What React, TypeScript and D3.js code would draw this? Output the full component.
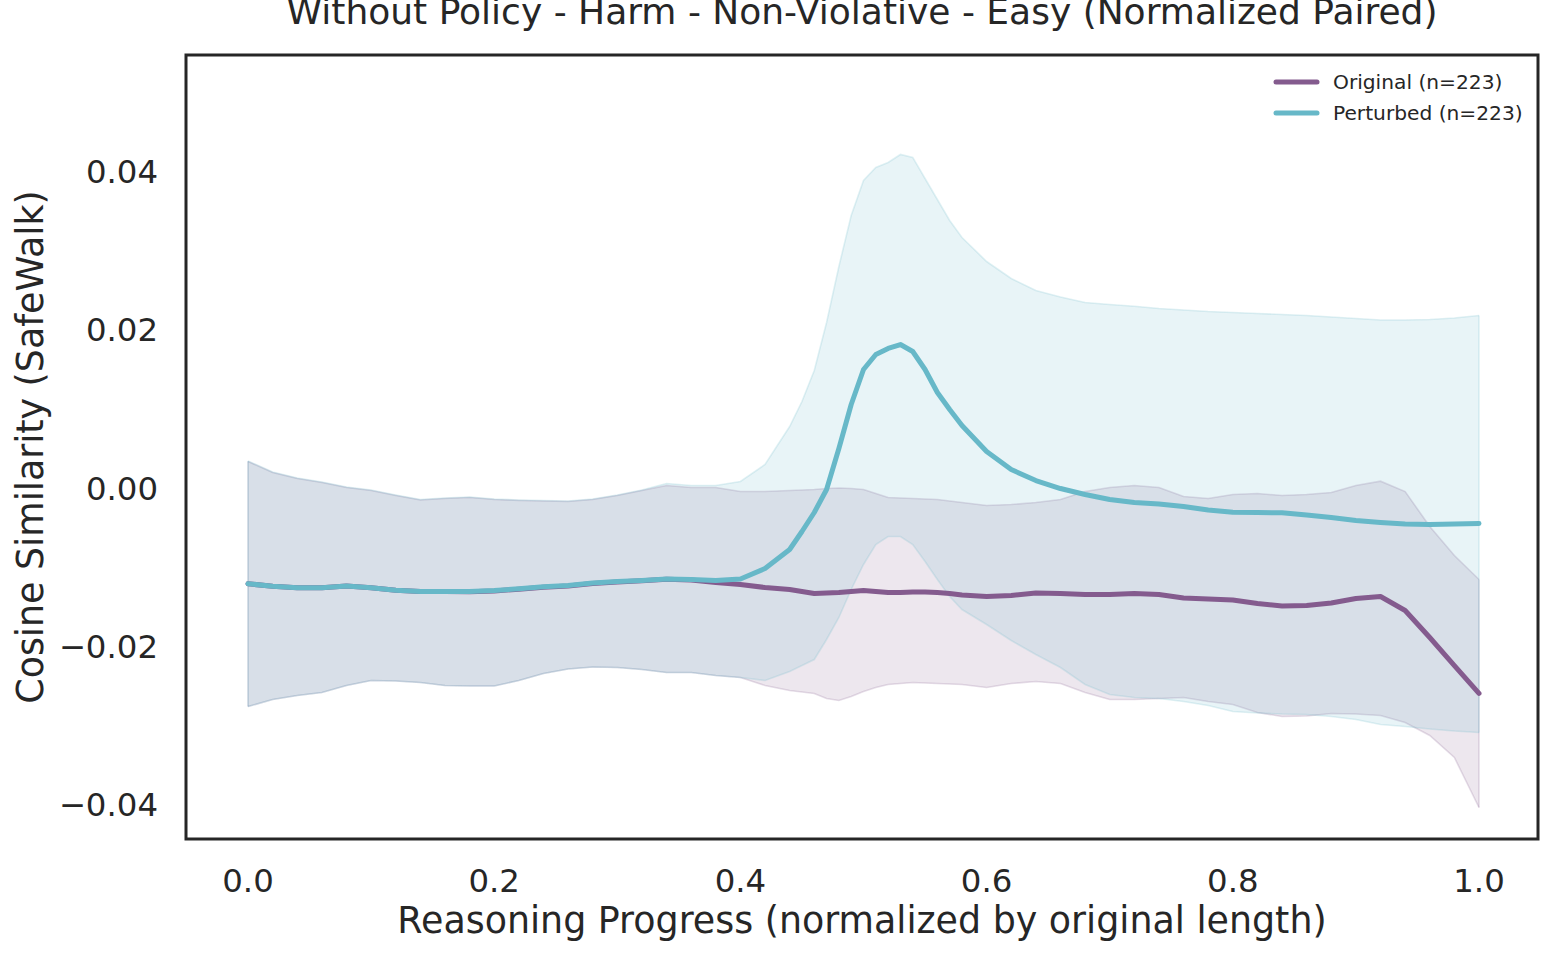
import React from "react";
import * as d3 from "d3";

const progress = [
  0.0, 0.02, 0.04, 0.06, 0.08, 0.1, 0.12, 0.14, 0.16, 0.18, 0.2, 0.22, 0.24, 0.26, 0.28, 0.3, 0.32, 0.34, 0.36, 0.38,
  0.4, 0.42, 0.44, 0.45, 0.46, 0.47, 0.48, 0.49, 0.5, 0.51, 0.52, 0.53, 0.54, 0.55, 0.56, 0.57, 0.58, 0.6, 0.62, 0.64,
  0.66, 0.68, 0.7, 0.72, 0.74, 0.76, 0.78, 0.8, 0.82, 0.84, 0.86, 0.88, 0.9, 0.92, 0.94, 0.96, 0.98, 1.0,
];

const originalMean = [
  -0.01217, -0.01247, -0.01268, -0.01268, -0.01245, -0.01268, -0.01298, -0.01314, -0.01314, -0.01318, -0.01307, -0.01285,
  -0.0126, -0.01244, -0.01212, -0.01193, -0.0118, -0.01161, -0.01168, -0.01201, -0.01226, -0.01264, -0.01289,
  -0.01314, -0.0134, -0.01333, -0.01327, -0.01314, -0.01302, -0.01314, -0.01327, -0.01327, -0.01321, -0.01321, -0.01327,
  -0.0134, -0.01359,
  -0.01378, -0.01365, -0.01333, -0.0134, -0.01352, -0.01352, -0.0134, -0.01352, -0.01397, -0.01409, -0.01422, -0.01466,
  -0.01498, -0.01491, -0.0146, -0.01403, -0.01378, -0.01555, -0.01896, -0.0225, -0.02603,
];

const originalUpper = [
  0.00329, 0.0019, 0.00114, 0.00063, 0.0, -0.00038, -0.00101, -0.00158, -0.00139, -0.00126, -0.00152, -0.00164, -0.00171,
  -0.00177, -0.00152, -0.00101, -0.00038, 0.00025, 0.0, 0.0, -0.00051, -0.00051, -0.00038,
  -0.00032, -0.00025, -0.00013, -0.00006, -0.00013, -0.00025, -0.00076, -0.00126, -0.00133, -0.00139, -0.00145, -0.00152,
  -0.00171, -0.0019,
  -0.00228, -0.00215, -0.0019, -0.00152, -0.00051, 0.0, 0.00025, 0.0, -0.00114, -0.00139, -0.00088, -0.00076, -0.00101,
  -0.00088, -0.00063, 0.00025, 0.0008, -0.00051, -0.00493, -0.00859, -0.01163,
];

const originalLower = [
  -0.02768, -0.02679, -0.02629, -0.02591, -0.02502, -0.02439, -0.02446, -0.02464, -0.02502, -0.02509, -0.02509, -0.02439,
  -0.02351, -0.02294, -0.02269, -0.02275, -0.023, -0.02338, -0.02338, -0.02376, -0.02401, -0.02502, -0.02566,
  -0.02585, -0.02604, -0.02667, -0.02692, -0.02641, -0.02578, -0.02528, -0.0249, -0.02477, -0.02464, -0.02471, -0.02477,
  -0.02483, -0.0249,
  -0.02528, -0.02477, -0.02452, -0.02477, -0.02591, -0.02679, -0.02679, -0.02667, -0.02654, -0.02705, -0.02742, -0.02844,
  -0.02894, -0.02888, -0.02856, -0.02862, -0.02882, -0.0297, -0.03134, -0.03412, -0.04044,
];

const perturbedMean = [
  -0.01217, -0.01247, -0.01268, -0.01268, -0.01245, -0.01268, -0.01298, -0.01314, -0.01314, -0.01314, -0.01302, -0.0128,
  -0.01255, -0.01239, -0.01207, -0.01188, -0.01175, -0.01156, -0.01163, -0.01175, -0.01156, -0.01024, -0.00784,
  -0.00556, -0.00316, -0.00025, 0.00493, 0.01049, 0.01491, 0.01681, 0.01757, 0.01807, 0.01719, 0.01491, 0.01201, 0.00986,
  0.00784,
  0.00455, 0.00227, 0.00088, -0.00013, -0.00088, -0.00152, -0.0019, -0.00209, -0.0024, -0.00284, -0.00312, -0.00316,
  -0.0032, -0.00348, -0.00379, -0.00417, -0.00442, -0.00461, -0.00468, -0.00461, -0.00455,
];

const perturbedUpper = [
  0.00335, 0.00196, 0.0012, 0.00069, 0.00006, -0.00032, -0.00095, -0.00152, -0.00133, -0.0012, -0.00146, -0.00158, -0.00165,
  -0.00171, -0.00146, -0.00095, -0.00032, 0.00051, 0.00025, 0.00025, 0.00076, 0.00291, 0.00771,
  0.01087, 0.01479, 0.02085, 0.02793, 0.03438, 0.0388, 0.04044, 0.04107, 0.04209, 0.04171, 0.03905, 0.0364, 0.03375, 0.0316,
  0.02856, 0.02641, 0.0249, 0.02408, 0.02338, 0.02313, 0.02291, 0.02262, 0.02243, 0.02224, 0.02212, 0.02199, 0.02186,
  0.02174, 0.02155, 0.02136, 0.02117, 0.02117, 0.02123, 0.02142, 0.02174,
];

const perturbedLower = [
  -0.02768, -0.02679, -0.02629, -0.02591, -0.02502, -0.02439, -0.02446, -0.02464, -0.02502, -0.02509, -0.02509, -0.02439,
  -0.02351, -0.02294, -0.02269, -0.02275, -0.023, -0.02338, -0.02338, -0.02376, -0.02401, -0.02439, -0.02325,
  -0.0225, -0.02174, -0.01921, -0.01643, -0.01289, -0.00973, -0.0072, -0.00619, -0.00619, -0.0072, -0.00935, -0.01163,
  -0.01378, -0.01542,
  -0.01731, -0.01934, -0.02111, -0.02275, -0.0249, -0.02616, -0.02654, -0.02667, -0.02705, -0.02755, -0.02831, -0.0285,
  -0.02863, -0.02869, -0.02894, -0.02932, -0.02995, -0.03021, -0.03052, -0.03078, -0.03096,
];

const xTicks = [0, 0.2, 0.4, 0.6, 0.8, 1.0];
const yTicks = [-0.04, -0.02, 0.0, 0.02, 0.04];

const seriesNames = ["Original (n=223)", "Perturbed (n=223)"];
const seriesColors = ["#845b8e", "#67b8c8"];

const W = 1555;
const H = 956;
const FONT = "DejaVu Sans, sans-serif";
const TEXT = "#262626";

export default function App() {
  const x = d3.scaleLinear().domain([0, 1]).range([248, 1479]);
  const y = d3.scaleLinear().domain([-0.04, 0.04]).range([804, 171]);
  const frame = { x0: 186, x1: 1538, y0: 55, y1: 839 };

  const area = (lo: number[], hi: number[]) =>
    d3
      .area<number>()
      .x((_, i) => x(progress[i]))
      .y0((_, i) => y(lo[i]))
      .y1((_, i) => y(hi[i]))(progress) as string;
  const edge = (vals: number[]) =>
    d3
      .line<number>()
      .x((_, i) => x(progress[i]))
      .y((_, i) => y(vals[i]))(progress) as string;

  const bands = [
    { lo: originalLower, hi: originalUpper, color: seriesColors[0] },
    { lo: perturbedLower, hi: perturbedUpper, color: seriesColors[1] },
  ];
  const means = [originalMean, perturbedMean];

  return (
    <svg
      width={W}
      height={H}
      style={{ position: "absolute", left: 0, top: 0, display: "block", background: "#fff" }}
    >
      <text x={862} y={24} textAnchor="middle" fontFamily={FONT} fontSize={36} fill={TEXT}>
        Without Policy - Harm - Non-Violative - Easy (Normalized Paired)
      </text>

      {bands.map((b, i) => (
        <g key={"band" + i}>
          <path d={area(b.lo, b.hi)} fill={b.color} fillOpacity={0.15} stroke="none" />
          <path d={edge(b.hi)} fill="none" stroke={b.color} strokeOpacity={0.2} strokeWidth={1.6} />
          <path d={edge(b.lo)} fill="none" stroke={b.color} strokeOpacity={0.2} strokeWidth={1.6} />
          <line
            x1={x(1)}
            x2={x(1)}
            y1={y(b.lo[b.lo.length - 1])}
            y2={y(b.hi[b.hi.length - 1])}
            stroke={b.color}
            strokeOpacity={0.2}
            strokeWidth={1.6}
          />
          <line
            x1={x(0)}
            x2={x(0)}
            y1={y(b.lo[0])}
            y2={y(b.hi[0])}
            stroke={b.color}
            strokeOpacity={0.2}
            strokeWidth={1.6}
          />
        </g>
      ))}

      {means.map((m, i) => (
        <path
          key={"mean" + i}
          d={edge(m)}
          fill="none"
          stroke={seriesColors[i]}
          strokeWidth={5}
          strokeLinejoin="round"
          strokeLinecap="round"
        />
      ))}

      <rect
        x={frame.x0}
        y={frame.y0}
        width={frame.x1 - frame.x0}
        height={frame.y1 - frame.y0}
        fill="none"
        stroke={TEXT}
        strokeWidth={3}
      />

      {xTicks.map((t) => (
        <text key={"xt" + t} x={x(t)} y={892} textAnchor="middle" fontFamily={FONT} fontSize={32.4} fill={TEXT}>
          {t.toFixed(1)}
        </text>
      ))}
      {yTicks.map((t) => (
        <text
          key={"yt" + t}
          x={158}
          y={y(t) + 12}
          textAnchor="end"
          fontFamily={FONT}
          fontSize={32.4}
          fill={TEXT}
        >
          {(t < 0 ? "\u2212" : "") + Math.abs(t).toFixed(2)}
        </text>
      ))}

      <text x={862} y={933} textAnchor="middle" fontFamily={FONT} fontSize={36.4} fill={TEXT}>
        Reasoning Progress (normalized by original length)
      </text>
      <text
        transform={`translate(43, 447) rotate(-90)`}
        textAnchor="middle"
        fontFamily={FONT}
        fontSize={36.4}
        fill={TEXT}
      >
        Cosine Similarity (SafeWalk)
      </text>

      {seriesNames.map((name, i) => (
        <g key={"leg" + i}>
          <line
            x1={1276}
            x2={1317}
            y1={82 + i * 31}
            y2={82 + i * 31}
            stroke={seriesColors[i]}
            strokeWidth={5}
            strokeLinecap="round"
          />
          <text x={1333} y={82 + i * 31 + 7} fontFamily={FONT} fontSize={20.2} fill={TEXT}>
            {name}
          </text>
        </g>
      ))}
    </svg>
  );
}
